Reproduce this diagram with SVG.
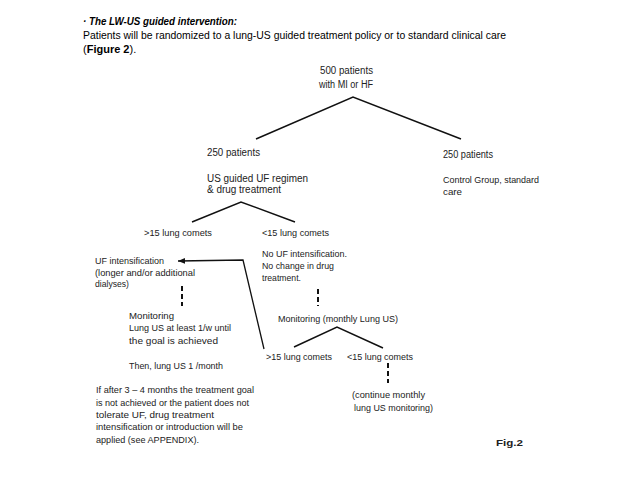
<svg xmlns="http://www.w3.org/2000/svg" width="640" height="480" viewBox="0 0 640 480">
<style>
.a{font-family:"Liberation Sans",Arial,sans-serif;font-size:10px;fill:#222}
.c{font-family:"Liberation Sans",Arial,sans-serif;font-size:9.8px;fill:#222}
.h{font-family:"Liberation Sans",Arial,sans-serif;font-size:11px;fill:#000}
.ln{stroke:#111;stroke-width:1.5;fill:none}
.ds{stroke:#111;stroke-width:2;stroke-dasharray:5 3;fill:none}
</style>
<defs>
<marker id="ah" markerWidth="8" markerHeight="8" refX="7" refY="4" orient="auto" markerUnits="userSpaceOnUse">
<path d="M0,1 L7,4 L0,7 Z" fill="#111"/>
</marker>
</defs>
<rect width="640" height="480" fill="#fff"/>
<g id="header">
<text class="h" x="83" y="25" font-weight="bold" font-style="italic" textLength="154" lengthAdjust="spacingAndGlyphs">· The LW-US guided intervention:</text>
<text class="h" x="83" y="39" textLength="423" lengthAdjust="spacingAndGlyphs">Patients will be randomized to a lung-US guided treatment policy or to standard clinical care</text>
<text class="h" x="83" y="53">(<tspan font-weight="bold">Figure 2</tspan>).</text>
</g>
<g id="connectors">
<polyline class="ln" points="256,139 353,97 461,139"/>
<polyline class="ln" points="192,222 241,202 295,222"/>
<polyline class="ln" points="294,347 337,327 383,348"/>
<polyline stroke="#111" stroke-width="1.3" fill="none" points="264,349 243,260 178,261" marker-end="url(#ah)"/>
<line class="ds" x1="182" y1="286" x2="182" y2="306"/>
<line class="ds" x1="318" y1="289" x2="318" y2="306"/>
<line class="ds" x1="388" y1="363" x2="388" y2="383"/>
</g>
<g id="n500">
<text class="a" x="320" y="74" textLength="53" lengthAdjust="spacingAndGlyphs">500 patients</text>
<text class="a" x="319" y="88" textLength="54" lengthAdjust="spacingAndGlyphs">with MI or HF</text>
</g>
<g id="nUS">
<text class="a" x="207" y="156" textLength="53" lengthAdjust="spacingAndGlyphs">250 patients</text>
<text class="a" x="207" y="182" textLength="101" lengthAdjust="spacingAndGlyphs">US guided UF regimen</text>
<text class="a" x="207" y="193" textLength="74" lengthAdjust="spacingAndGlyphs">&amp; drug treatment</text>
</g>
<g id="nControl">
<text class="a" x="443" y="158" textLength="50" lengthAdjust="spacingAndGlyphs">250 patients</text>
<text class="c" x="443" y="183" textLength="96" lengthAdjust="spacingAndGlyphs">Control Group, standard</text>
<text class="c" x="443" y="195" textLength="19" lengthAdjust="spacingAndGlyphs">care</text>
</g>
<g id="nGt15a">
<text class="c" x="144" y="236" textLength="68" lengthAdjust="spacingAndGlyphs">&gt;15 lung comets</text>
</g>
<g id="nLt15a">
<text class="c" x="262" y="236" textLength="67" lengthAdjust="spacingAndGlyphs">&lt;15 lung comets</text>
</g>
<g id="nNoUF">
<text class="c" x="262" y="257" textLength="85" lengthAdjust="spacingAndGlyphs">No UF intensification.</text>
<text class="c" x="262" y="269" textLength="72" lengthAdjust="spacingAndGlyphs">No change in drug</text>
<text class="c" x="262" y="281" textLength="39" lengthAdjust="spacingAndGlyphs">treatment.</text>
</g>
<g id="nUF">
<text class="c" x="95" y="264" textLength="69" lengthAdjust="spacingAndGlyphs">UF intensification</text>
<text class="c" x="95" y="276" textLength="100" lengthAdjust="spacingAndGlyphs">(longer and/or additional</text>
<text class="c" x="95" y="287" textLength="34" lengthAdjust="spacingAndGlyphs">dialyses)</text>
</g>
<g id="nMon1">
<text class="c" x="129" y="319" textLength="45" lengthAdjust="spacingAndGlyphs">Monitoring</text>
<text class="c" x="129" y="331" textLength="102" lengthAdjust="spacingAndGlyphs">Lung US at least 1/w until</text>
<text class="c" x="129" y="344" textLength="89" lengthAdjust="spacingAndGlyphs">the goal is achieved</text>
<text class="c" x="129" y="369" textLength="94" lengthAdjust="spacingAndGlyphs">Then, lung US 1 /month</text>
</g>
<g id="nIf">
<text class="c" x="96" y="393" textLength="158" lengthAdjust="spacingAndGlyphs">If after 3 – 4 months the treatment goal</text>
<text class="c" x="96" y="406" textLength="153" lengthAdjust="spacingAndGlyphs">is not achieved or the patient does not</text>
<text class="c" x="96" y="418" textLength="118" lengthAdjust="spacingAndGlyphs">tolerate UF, drug treatment</text>
<text class="c" x="96" y="430" textLength="147" lengthAdjust="spacingAndGlyphs">intensification or introduction will be</text>
<text class="c" x="96" y="443" textLength="103" lengthAdjust="spacingAndGlyphs">applied (see  APPENDIX).</text>
</g>
<g id="nMon2">
<text class="c" x="278" y="322" textLength="120" lengthAdjust="spacingAndGlyphs">Monitoring (monthly Lung US)</text>
</g>
<g id="nGt15b">
<text class="c" x="266" y="360" textLength="66" lengthAdjust="spacingAndGlyphs">&gt;15 lung comets</text>
</g>
<g id="nLt15b">
<text class="c" x="347" y="360" textLength="66" lengthAdjust="spacingAndGlyphs">&lt;15 lung comets</text>
</g>
<g id="nContinue">
<text class="c" x="352" y="398" textLength="73" lengthAdjust="spacingAndGlyphs">(continue monthly</text>
<text class="c" x="354" y="411" textLength="79" lengthAdjust="spacingAndGlyphs"> lung US monitoring)</text>
</g>
<g id="fig">
<text class="c" x="496" y="446" font-weight="bold" textLength="27" lengthAdjust="spacingAndGlyphs">Fig.2</text>
</g>
</svg>
